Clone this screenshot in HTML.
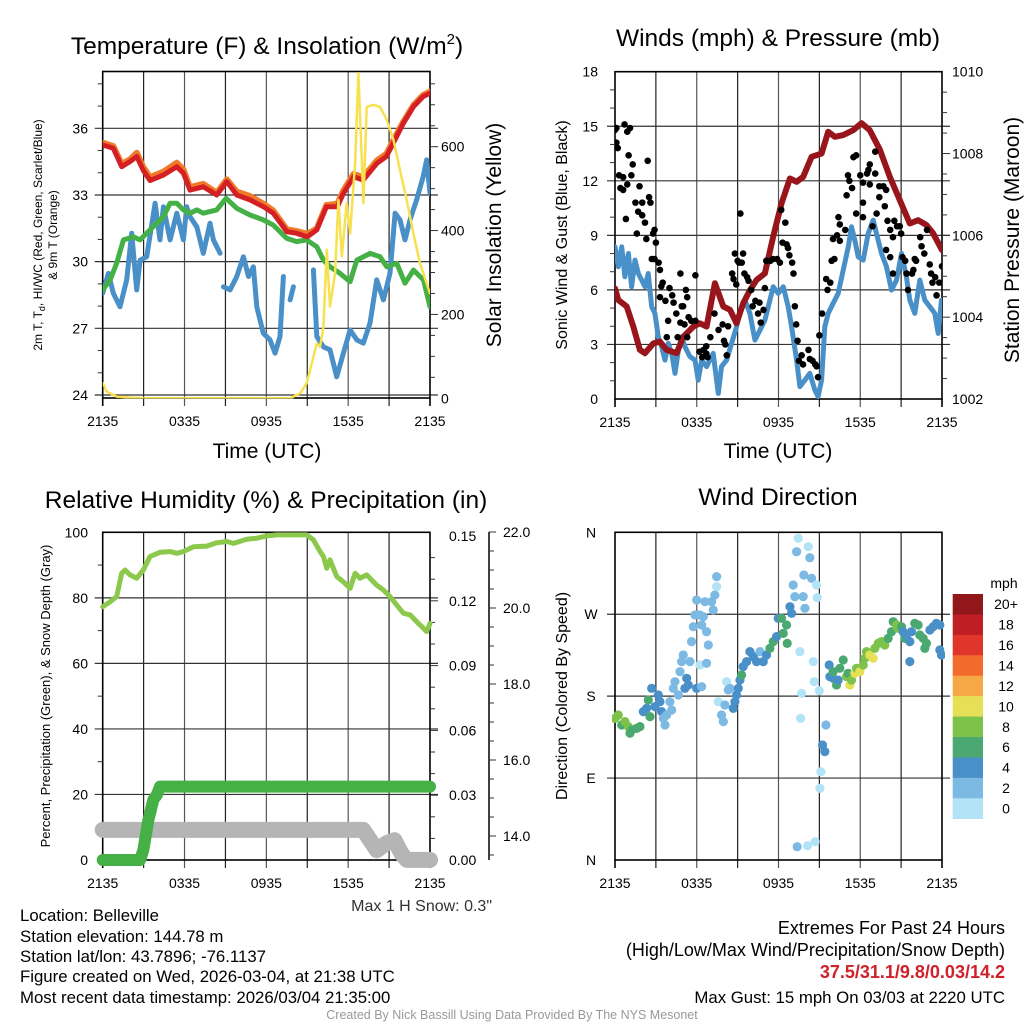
<!DOCTYPE html>
<html><head><meta charset="utf-8"><style>
html,body{margin:0;padding:0;background:#fff}
svg{display:block;font-family:"Liberation Sans",Arial,sans-serif}
</style></head><body>
<svg id="chart" width="1024" height="1024" viewBox="0 0 1024 1024" xmlns="http://www.w3.org/2000/svg">
<rect width="1024" height="1024" fill="#fff"/>
<defs>
<clipPath id="c1"><rect x="102.7" y="71.5" width="327.3" height="327"/></clipPath>
<clipPath id="c2"><rect x="615" y="71.7" width="327" height="327.3"/></clipPath>
<clipPath id="c4"><rect x="612" y="529" width="333" height="334"/></clipPath>
</defs>
<g id="layer"></g>
<!-- titles -->
<text x="267" y="54" font-size="24.5" text-anchor="middle">Temperature (F) &amp; Insolation (W/m<tspan font-size="15" dy="-10">2</tspan><tspan dy="10">)</tspan></text>
<text x="778" y="46" font-size="24.5" text-anchor="middle">Winds (mph) &amp; Pressure (mb)</text>
<text x="266" y="508" font-size="24.5" text-anchor="middle">Relative Humidity (%) &amp; Precipitation (in)</text>
<text x="778" y="505" font-size="24.5" text-anchor="middle">Wind Direction</text>
<!-- axis titles -->
<text transform="translate(42,235) rotate(-90)" font-size="12" text-anchor="middle">2m T, T<tspan font-size="9" dy="3">d</tspan><tspan dy="-3">, HI/WC (Red, Green, Scarlet/Blue)</tspan></text>
<text transform="translate(57,235) rotate(-90)" font-size="12" text-anchor="middle">&amp; 9m T (Orange)</text>
<text transform="translate(501,235) rotate(-90)" font-size="21" text-anchor="middle">Solar Insolation (Yellow)</text>
<text x="267" y="458" font-size="21" text-anchor="middle">Time (UTC)</text>
<text transform="translate(567,235) rotate(-90)" font-size="16" text-anchor="middle">Sonic Wind &amp; Gust (Blue, Black)</text>
<text transform="translate(1019,240) rotate(-90)" font-size="21" text-anchor="middle">Station Pressure (Maroon)</text>
<text x="778" y="458" font-size="21" text-anchor="middle">Time (UTC)</text>
<text transform="translate(50,696) rotate(-90)" font-size="13" text-anchor="middle">Percent, Precipitation (Green), &amp; Snow Depth (Gray)</text>
<text transform="translate(567,696) rotate(-90)" font-size="16" text-anchor="middle">Direction (Colored By Speed)</text>
<text x="1004" y="588" font-size="14" text-anchor="middle">mph</text>
<!-- footer -->
<text x="492" y="911" font-size="16" text-anchor="end" fill="#333">Max 1 H Snow: 0.3"</text>
<g font-size="16.8">
<text x="20" y="921">Location: Belleville</text>
<text x="20" y="942">Station elevation: 144.78 m</text>
<text x="20" y="962">Station lat/lon: 43.7896; -76.1137</text>
<text x="20" y="982">Figure created on Wed, 2026-03-04, at 21:38 UTC</text>
<text x="20" y="1003">Most recent data timestamp: 2026/03/04 21:35:00</text>
</g>
<g font-size="18" text-anchor="end">
<text x="1005" y="934">Extremes For Past 24 Hours</text>
<text x="1005" y="956">(High/Low/Max Wind/Precipitation/Snow Depth)</text>
<text x="1005" y="978" fill="#d0202a" font-weight="bold">37.5/31.1/9.8/0.03/14.2</text>
<text x="1005" y="1003" font-size="16.8">Max Gust: 15 mph On 03/03 at 2220 UTC</text>
</g>
<text x="512" y="1019" font-size="12.5" fill="#999" text-anchor="middle">Created By Nick Bassill Using Data Provided By The NYS Mesonet</text>
</svg>
<script>
// ===== Panel 1 data =====
const tHours=[0,0.78,1.39,2.0,2.5,2.98,3.47,4.45,5.43,5.92,6.4,7.38,8.36,9.1,9.83,10.8,11.8,12.5,13.5,14.2,15.0,15.7,16.4,17.2,17.65,18.4,19.1,20.1,20.8,21.3,22.05,22.8,23.5,24];
const tempT=[35.25,35.1,34.27,34.5,34.73,34.1,33.65,33.9,34.27,33.98,33.22,33.37,33.0,33.6,33.0,32.78,32.47,32.18,31.35,31.28,31.12,31.43,32.47,32.47,33.07,33.82,33.67,34.42,34.73,35.33,36.23,36.98,37.43,37.58];
const temp9m=[35.35,35.2,34.4,34.6,34.9,34.25,33.8,34.05,34.45,34.15,33.35,33.5,33.1,33.7,33.15,32.95,32.6,32.3,31.45,31.38,31.25,31.5,32.55,32.6,33.2,33.95,33.8,34.55,34.85,35.45,36.3,37.05,37.5,37.65];
const tdHours=[0,0.54,1.03,1.52,2.25,2.74,3.47,4.45,4.94,5.43,5.92,6.41,6.9,7.38,7.87,8.36,9.05,9.83,10.8,11.78,12.5,13.49,14.22,14.96,15.7,16.18,16.67,17.41,18.14,18.63,19.61,20.34,20.83,21.56,22.17,22.79,23.52,24.0];
const tempTd=[28.73,29.18,29.93,30.98,31.12,30.98,31.43,32.02,32.63,32.63,32.33,32.18,32.33,32.18,32.25,32.33,32.85,32.4,32.1,31.88,31.65,31.05,30.9,30.98,30.67,30.07,29.77,29.47,29.1,30.07,30.37,30.22,29.77,29.93,29.03,29.62,29.18,27.97];
const wcHours=[0,0.42,0.78,1.27,1.76,2.13,2.49,2.74,3.23,3.84,4.2,4.45,4.94,5.43,5.92,6.16,6.41,6.9,7.38,7.87,8.12,8.61,null,8.85,9.34,9.83,10.32,10.69,11.05,11.3,11.78,12.27,12.64,13.0,13.25,null,13.74,13.98,null,15.45,15.7,16.18,16.67,17.16,17.65,18.14,18.63,19.11,19.6,20.09,20.58,21.07,21.44,21.8,22.17,22.53,23.02,23.5,23.76,24.0];
const tempWC=[28.58,29.47,28.58,27.97,29.18,31.28,28.73,30.07,30.22,32.63,30.98,32.47,30.98,32.18,30.98,32.47,32.02,31.57,30.37,31.73,30.98,30.38,null,28.87,28.73,29.33,30.22,29.33,29.77,27.97,26.78,26.48,25.88,26.63,29.33,null,28.28,28.87,null,29.63,26.63,26.17,26.03,24.82,25.88,26.93,26.48,26.33,27.23,29.18,28.28,29.48,32.18,31.88,30.98,31.88,32.78,33.83,34.58,33.08];
const solarHours=[0,0.29,1.03,2.74,13.74,14.48,14.96,15.45,15.7,15.94,16.18,16.43,16.67,17.04,17.28,17.53,17.89,18.14,18.51,18.75,19.0,19.12,19.36,19.85,20.34,20.83,21.32,21.8,22.29,22.78,23.27,24.0];
const solar=[36,16,4,0,0,12,36,99,131,123,171,354,219,298,473,338,465,393,560,775,568,465,695,700,695,664,616,544,473,393,322,250];
// ===== Panel 2 data =====
const presHours=[0,0.24,0.86,1.34,1.83,2.2,2.81,3.3,3.79,4.52,5.01,5.75,6.23,6.72,7.33,7.95,8.44,8.92,9.41,9.9,10.39,11.0,11.61,12.22,12.84,13.33,13.81,14.43,15.16,15.65,16.14,16.75,17.48,18.09,18.7,19.44,20.17,20.9,21.64,22.25,22.86,23.35,24];
const pressure=[1004.7,1004.42,1004.26,1003.77,1003.2,1003.12,1003.36,1003.4,1003.2,1003.12,1003.52,1003.77,1003.85,1003.77,1004.83,1004.26,1004.18,1003.85,1004.34,1004.66,1004.91,1005.07,1005.97,1006.78,1007.39,1007.31,1007.43,1007.92,1008.0,1008.53,1008.41,1008.45,1008.57,1008.74,1008.57,1008.09,1007.43,1006.86,1006.29,1006.37,1006.25,1006.05,1005.64];
const windHours=[0,0.24,0.49,0.73,0.98,1.22,1.47,1.71,1.96,2.2,2.44,2.69,2.93,3.18,3.42,3.67,3.91,4.16,4.4,4.65,4.89,5.13,5.5,5.87,6.11,6.36,6.72,7.21,7.58,7.82,8.19,8.56,8.92,9.17,9.54,9.9,10.27,10.64,11.0,11.37,11.61,11.98,12.35,12.71,12.96,13.33,13.57,13.94,14.3,14.67,14.91,15.16,15.4,15.65,16.01,16.38,16.75,17.12,17.36,17.6,17.85,18.22,18.58,18.95,19.19,19.56,19.93,20.29,20.66,21.03,21.39,21.64,22.0,22.37,22.74,23.11,23.47,23.72,23.96];
const windSpeed=[8.37,7.27,8.37,6.72,8.0,6.17,7.64,6.9,6.54,6.17,6.9,5.07,4.71,3.42,2.88,2.14,3.06,2.51,1.41,2.69,3.42,2.88,2.33,2.14,1.04,2.14,1.78,2.51,0.31,1.78,2.14,3.06,3.97,4.71,5.44,4.71,3.24,3.79,4.34,5.44,6.17,5.81,6.17,5.07,3.97,2.14,0.68,1.04,1.41,0.49,0.13,1.04,3.97,4.71,5.26,5.81,7.09,8.37,9.47,8.74,7.82,7.64,9.1,9.84,9.1,8.0,7.27,5.99,6.54,8.0,6.72,5.44,4.71,6.54,5.44,5.07,4.71,3.61,5.44];
const gustHours=[0,0.1,0.1,0.2,0.7,0.9,1.1,0.3,0.6,0.4,0.6,1.0,1.2,1.3,0.8,0.9,1.5,1.6,1.8,1.7,2.0,2.0,2.2,2.4,2.5,2.6,2.3,2.8,2.9,3.0,2.7,2.9,3.2,3.3,3.4,3.5,3.3,3.7,4.0,4.2,3.9,4.3,4.8,4.9,4.5,5.0,5.2,5.3,4.8,5.1,5.4,5.6,5.9,5.9,5.3,4.6,3.8,6.2,6.5,6.7,6.7,6.8,6.4,7.0,7.3,7.6,7.9,8.0,8.1,8.2,8.3,8.6,8.7,8.8,9.0,9.1,9.2,9.3,9.4,9.5,9.7,9.8,8.9,10.0,10.1,10.3,10.5,10.6,10.9,10.7,11.0,11.1,11.4,11.6,11.9,12.1,12.2,12.3,12.5,12.6,12.7,12.8,13.0,13.1,13.2,13.3,13.4,13.5,13.7,13.8,14.2,14.3,14.5,14.7,14.8,14.9,15.0,15.2,15.5,15.6,15.8,15.9,16.1,16.0,16.3,16.4,16.5,16.9,17.0,17.1,17.2,17.4,17.5,17.7,18.0,18.2,18.5,18.6,18.7,19.1,19.1,19.4,19.4,19.7,19.8,19.9,20.0,20.2,20.4,20.5,20.7,20.9,21.0,21.1,21.3,21.5,21.8,22.0,22.4,22.5,22.7,22.9,23.1,23.2,23.3,23.6,23.8,24.0,23.5,22.1,21.4,21.9,20.2,19.9,20.4,18.9,19.2,18.7,18.2,17.7,16.5,18.2];
const gustSpeed=[14.8,14.9,14.1,13.8,15.1,14.7,14.9,12.3,12.2,11.6,11.5,13.4,12.3,12.9,9.9,11.8,10.8,9.1,11.7,10.3,10.8,10.1,9.7,13.1,11.1,10.8,8.8,9.1,9.3,8.6,7.7,7.7,7.5,7.1,6.2,6.4,5.6,5.4,6.1,5.7,4.3,5.3,6.9,5.1,4.7,5.1,6.0,5.6,4.2,4.1,4.5,4.3,4.3,6.8,3.4,3.4,3.4,2.6,2.7,2.5,2.9,2.3,2.3,3.4,4.7,3.8,4.1,3.2,3.0,2.4,4.0,6.9,6.6,8.0,7.6,7.5,10.2,7.5,8.0,6.9,6.7,6.5,6.3,6.0,5.1,5.4,4.7,5.3,4.9,4.2,6.1,7.6,7.6,7.7,7.7,7.5,10.4,8.6,9.7,8.5,8.3,7.9,7.5,6.9,5.1,4.1,3.2,2.1,2.4,1.9,2.7,2.2,2.1,1.9,1.8,1.2,3.5,4.7,6.6,6.0,6.4,7.6,7.7,8.8,9.0,10.0,9.6,9.3,11.2,12.3,12.0,11.6,13.3,13.4,12.3,11.9,12.4,12.6,12.9,13.6,12.4,11.7,11.1,11.7,10.6,11.5,9.8,9.3,8.9,9.8,9.5,9.5,9.1,7.8,7.6,6.0,6.9,7.7,8.9,8.4,8.0,9.3,7.4,6.9,6.4,5.7,6.4,7.3,6.7,7.6,6.9,7.1,7.8,8.2,6.9,9.5,10.2,11.8,10.8,10.2,8.7,10.0];
// ===== Panel 3 data =====
const rhHours=[0,0.54,1.03,1.39,1.64,2.0,2.49,2.98,3.47,4.2,4.94,5.43,5.92,6.65,7.63,8.36,9.1,9.59,10.56,11.3,12.03,12.76,13.74,14.96,15.45,15.94,16.18,16.43,16.67,17.16,17.65,18.14,18.51,18.87,19.36,20.09,20.58,21.07,21.56,22.05,22.54,23.03,23.52,23.76,24.0];
const rh=[77.3,78.8,80.4,87.5,88.5,87.0,86.0,88.5,92.6,93.9,94.1,93.6,94.1,95.6,95.8,96.8,97.2,96.6,97.9,98.2,98.9,99.2,99.2,99.2,97.7,94.1,92.6,89.0,91.6,86.5,84.9,82.9,87.5,86.0,87.0,83.9,82.4,80.4,77.8,75.3,74.8,72.7,70.7,69.7,72.2];
const precipHours=[0,2.74,2.98,3.35,3.72,3.96,4.2,24];
const precip=[0,0,0.0046,0.0185,0.028,0.030,0.034,0.034];
const snowHours=[0,19.1,20.1,20.8,21.4,21.9,22.3,24];
const snowDepth=[14.16,14.16,13.63,13.81,13.89,13.54,13.37,13.37];
// ===== Panel 4 data =====
const dirHours=[0.0,0.24,0.49,0.73,0.98,1.22,1.59,1.83,1.10,2.08,2.32,2.57,2.44,2.69,2.93,3.18,3.30,3.42,3.55,3.67,3.79,4.03,4.16,4.28,4.40,4.65,4.77,4.89,5.01,5.13,5.26,5.38,5.50,5.62,5.75,5.87,5.99,5.99,6.23,6.36,6.23,6.48,6.36,6.72,6.72,6.85,6.60,7.09,7.21,7.33,7.46,7.46,7.58,7.82,7.95,8.07,8.19,8.31,8.44,8.68,8.80,8.92,9.05,9.17,9.29,9.41,9.66,9.90,10.15,10.39,10.64,10.88,11.12,11.37,11.61,11.86,11.98,12.22,12.35,12.59,12.64,12.84,12.96,13.08,13.20,13.33,13.45,13.57,13.69,13.62,13.81,13.86,13.94,14.18,14.30,14.43,14.55,14.62,14.79,14.84,14.99,15.23,15.40,15.48,15.11,15.04,13.37,14.13,14.69,15.72,15.77,16.01,16.26,16.01,16.38,16.50,16.75,16.99,17.11,17.24,17.36,17.60,17.73,17.97,18.22,18.34,18.46,18.70,18.95,19.07,19.32,19.56,19.80,20.05,20.29,20.42,20.66,20.78,21.03,21.15,21.27,21.39,21.64,21.76,21.64,22.00,22.25,22.37,22.62,22.74,22.86,23.11,23.35,23.59,23.84,23.84,23.96];
const dirDeg=[155.6,159.3,148.3,152.0,146.5,142.8,144.6,146.5,139.2,163.0,166.6,157.5,175.8,188.6,168.5,181.3,173.9,163.0,155.6,148.3,159.3,173.9,164.8,188.6,195.9,181.3,206.9,217.9,225.2,188.6,199.6,192.3,217.9,239.9,256.3,269.2,285.6,188.6,214.2,190.4,269.2,267.3,258.2,250.8,216.1,236.2,283.8,283.8,274.7,291.1,300.3,311.3,173.9,159.3,152.0,170.3,195.9,186.8,188.6,166.6,173.9,181.3,188.6,197.7,203.2,212.4,217.9,228.9,223.4,217.9,228.9,217.9,225.2,232.5,239.9,245.4,265.5,265.5,249.0,258.2,238.0,278.3,271.0,302.1,289.3,338.7,353.4,228.9,183.1,155.6,289.3,313.1,276.5,344.2,332.1,309.4,217.9,195.9,302.1,288.2,186.0,126.3,119.0,148.3,97.0,78.7,14.6,15.7,20.1,214.2,201.4,199.6,192.3,206.9,197.7,210.6,219.7,201.4,205.1,192.3,197.7,205.1,210.6,206.9,214.2,221.6,228.9,225.2,221.6,232.5,238.0,239.9,236.2,243.5,250.8,261.8,258.2,254.5,256.3,250.8,243.5,247.2,239.9,250.8,217.9,260.0,258.2,247.2,243.5,232.5,238.0,252.7,256.3,260.0,258.2,230.7,225.2];
const dirSpeed=[9,9,7,9,9,7,7,7,7,5,5,7,7,5,5,5,5,5,3,3,3,3,3,3,3,3,3,3,3,5,5,5,3,3,3,3,3,5,1,3,3,3,3,3,3,3,3,3,3,3,1,3,1,3,3,3,1,3,3,5,5,5,5,5,7,5,5,5,5,5,3,5,5,7,7,5,5,7,7,7,7,5,5,3,3,3,1,1,1,1,3,3,3,1,3,3,1,1,1,1,1,5,5,3,1,1,3,1,1,5,5,5,7,7,5,7,7,9,7,11,9,11,9,11,9,9,9,11,11,9,9,9,9,7,7,7,9,9,7,5,7,5,5,5,5,7,7,7,7,7,7,5,5,5,5,5,5];
const cbLabels=["20+","18","16","14","12","10","8","6","4","2","0"];
const cbColors=["#92171b","#be1e24","#e0352a","#f26b2c","#f6a846","#e5e055","#7dc24b","#4aa870","#4a90c8","#7cb9e3","#b3e3f7"];
const hourTicks=["2135","0335","0935","1535","2135"];

const NS="http://www.w3.org/2000/svg";
const layer=document.getElementById('layer');
function mk(tag,attrs,parent){const e=document.createElementNS(NS,tag);for(const k in attrs)e.setAttribute(k,attrs[k]);(parent||layer).appendChild(e);return e;}
function lin(d0,d1,r0,r1){return v=>r0+(v-d0)/(d1-d0)*(r1-r0);}
function pathOf(xs,ys,fx,fy){let d="",pen=false;for(let i=0;i<xs.length;i++){if(xs[i]===null||ys[i]===null){pen=false;continue;}d+=(pen?"L":"M")+fx(xs[i]).toFixed(1)+","+fy(ys[i]).toFixed(1);pen=true;}return d;}

function frame(x0,x1,yT,yB,hLines,name){
  const g=mk('g',{});
  
  
  const fx=lin(0,24,x0,x1);
  for(let h=3;h<24;h+=3){mk('line',{x1:fx(h),x2:fx(h),y1:yT,y2:yB+8,stroke:h%6?"#222":"#555","stroke-width":1.2},g);}
  hLines.forEach(y=>mk('line',{x1:x0-8,x2:x1+8,y1:y,y2:y,stroke:"#333","stroke-width":1.2},g));
  mk('rect',{x:x0,y:yT,width:x1-x0,height:yB-yT,fill:"none",stroke:"#000","stroke-width":1.6},g);
  mk('line',{x1:x0,x2:x0,y1:yB,y2:yB+8,stroke:"#000","stroke-width":1.6},g);
  mk('line',{x1:x1,x2:x1,y1:yB,y2:yB+8,stroke:"#000","stroke-width":1.6},g);
  hourTicks.forEach((t,i)=>{const tx=mk('text',{x:fx(i*6),y:yB+28,"font-size":14,"text-anchor":"middle"},g);tx.textContent=t;});
  return fx;
}
function ylabels(vals,fy,x,anchor,name,fmt){
  const g=mk('g',{"font-size":14,"text-anchor":anchor});
  
  
  vals.forEach(v=>{const t=mk('text',{x:x,y:fy(v)+5},g);t.textContent=fmt?fmt(v):v;});
}
function minorTicks(vals,fy,x,len){vals.forEach(v=>mk('line',{x1:x,x2:x+len,y1:fy(v),y2:fy(v),stroke:"#333","stroke-width":1}));}

// ---- Panel 1 ----
(function(){
  const x0=102.7,x1=430,yT=71.5,yB=398;
  const fyL=lin(24,36,395,128.3), fyR=lin(0,600,398.3,146.7);
  const fx=frame(x0,x1,yT,yB,[24,27,30,33,36].map(fyL),'temperature');
  ylabels([24,27,30,33,36],fyL,88,'end','temp-left-ticks');
  ylabels([0,200,400,600],fyR,441,'start','solar-right-ticks');
  for(let v=25;v<39;v++){if(v%3)minorTicks([v],fyL,x0-5,5);}
  for(let v=50;v<800;v+=50){minorTicks([v],fyR,x1,v%200?5:8);}
  const g=mk('g',{"clip-path":"url(#c1)",fill:"none","stroke-linejoin":"round","stroke-linecap":"round"});
  let p;
  p=mk('path',{d:pathOf(wcHours,tempWC,fx,fyL),stroke:"#4a90c8","stroke-width":5},g);
  
  p=mk('path',{d:pathOf(tdHours,tempTd,fx,fyL),stroke:"#45b045","stroke-width":5},g);
  
  p=mk('path',{d:pathOf(tHours,temp9m,fx,fyL),stroke:"#f07a2a","stroke-width":6},g);
  
  p=mk('path',{d:pathOf(tHours,tempT,fx,fyL),stroke:"#d42025","stroke-width":5},g);
  
  p=mk('path',{d:pathOf(solarHours,solar,fx,fyR),stroke:"#f7e14f","stroke-width":2.5},g);
  
})();

// ---- Panel 2 ----
(function(){
  const x0=615,x1=942,yT=71.7,yB=399;
  const fyL=lin(0,18,399,71.7), fyR=lin(1002,1010,399,71.7);
  const fx=frame(x0,x1,yT,yB,[3,6,9,12,15].map(fyL),'winds');
  ylabels([0,3,6,9,12,15,18],fyL,598,'end','wind-left-ticks');
  ylabels([1002,1004,1006,1008,1010],fyR,952,'start','pressure-right-ticks');
  for(let v=1;v<18;v++){if(v%3)minorTicks([v],fyL,x0-5,5);}
  for(let v=1002.5;v<1010;v+=0.5){minorTicks([v],fyR,x1,Number.isInteger(v/2)?8:5);}
  const g=mk('g',{"clip-path":"url(#c2)",fill:"none","stroke-linejoin":"round","stroke-linecap":"round"});
  let p=mk('path',{d:pathOf(windHours,windSpeed,fx,fyL),stroke:"#4a90c8","stroke-width":5},g);
  
  p=mk('path',{d:pathOf(presHours,pressure,fx,fyR),stroke:"#98161b","stroke-width":6},g);
  
  const gg=mk('g',{fill:"#000"},g);
  
  
  for(let i=0;i<gustHours.length;i++){
    const c=mk('circle',{cx:fx(gustHours[i]),cy:fyL(gustSpeed[i]),r:3.3},gg);
    
    
  }
})();

// ---- Panel 3 ----
(function(){
  const x0=102.7,x1=430,yT=532.3,yB=860;
  const fyL=lin(0,100,860,532.3), fyP=lin(0,0.15,860,536), fyS=lin(14,22,836,532);
  const fx=frame(x0,x1,yT,yB,[20,40,60,80].map(fyL),'humidity');
  ylabels([0,20,40,60,80,100],fyL,88,'end','humidity-left-ticks');
  ylabels([0,0.03,0.06,0.09,0.12,0.15],fyP,449,'start','precip-right-ticks',v=>v.toFixed(2));
  for(let v=10;v<100;v+=10){if(v%20)minorTicks([v],fyL,x0-5,5);}
  for(let v=0.01;v<0.15;v+=0.01){minorTicks([v],fyP,x1,Math.abs(v/0.03-Math.round(v/0.03))<0.01?8:5);}
  const sa=mk('g',{});
  
  
  mk('line',{x1:489,x2:489,y1:532,y2:860,stroke:"#000","stroke-width":1.5},sa);
  for(let v=13.5;v<=22;v+=0.5){mk('line',{x1:489,x2:Number.isInteger(v/2)?496:494,y1:fyS(v),y2:fyS(v),stroke:"#333","stroke-width":1},sa);}
  ylabels([14,16,18,20,22],fyS,503,'start','snow-axis-ticks',v=>v.toFixed(1));
  const g=mk('g',{fill:"none","stroke-linejoin":"round","stroke-linecap":"round"});
  let p=mk('path',{d:pathOf(snowHours,snowDepth,fx,fyS),stroke:"#b5b5b5","stroke-width":16},g);
  
  p=mk('path',{d:pathOf(precipHours,precip,fx,fyP),stroke:"#45b045","stroke-width":12},g);
  
  p=mk('path',{d:pathOf(rhHours,rh,fx,fyL),stroke:"#8cc84b","stroke-width":5},g);
  
})();

// ---- Panel 4 ----
(function(){
  const x0=615,x1=942,yT=532.3,yB=860;
  const fy=lin(0,360,860,532.3);
  const fx=frame(x0,x1,yT,yB,[90,180,270].map(fy),'direction');
  const lg=mk('g',{"font-size":14,"text-anchor":"middle"});
  
  
  ["N","E","S","W","N"].forEach((t,i)=>{const e=mk('text',{x:591,y:fy(i*90)+5},lg);e.textContent=t;});
  const g=mk('g',{"clip-path":"url(#c4)"});
  
  
  for(let i=0;i<dirHours.length;i++){
    const s=dirSpeed[i];const bin=Math.min(10,Math.floor(s/2));
    const c=mk('circle',{cx:fx(dirHours[i]),cy:fy(dirDeg[i]),r:4.6,fill:cbColors[10-bin]},g);
    
    
  }
  const cb=mk('g',{});
  
  
  const h=(818.7-594)/11;
  cbLabels.forEach((l,i)=>{
    const r=mk('rect',{x:952.7,y:594+i*h,width:30.3,height:h+0.3,fill:cbColors[i]},cb);
    
    
    const t=mk('text',{x:1006,y:594+i*h+h/2+5,"font-size":14,"text-anchor":"middle"},cb);
    t.textContent=l;
  });
})();
</script>
</body></html>
